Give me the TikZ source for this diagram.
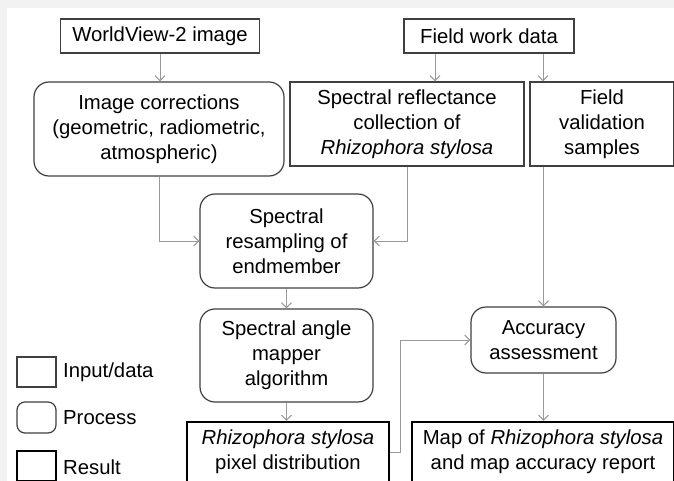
\documentclass[tikz,border=0pt]{standalone}
\usepackage{fontspec}
\setmainfont{Liberation Sans}
\usepackage{xcolor}
\usetikzlibrary{positioning,arrows.meta}
\definecolor{edge}{HTML}{404040}
\definecolor{flowgray}{HTML}{9A9A9A}
\definecolor{pagegray}{HTML}{F2F2F2}

\begin{document}
\begin{tikzpicture}[x=1pt, y=-1pt,
  every node/.style={font=\fontsize{20.3}{25}\selectfont, align=center, inner sep=0pt},
  inbox/.style={draw=edge, line width=1.2pt},
  procbox/.style={draw=edge, line width=1.2pt, rounded corners=15pt},
  resbox/.style={draw=black, line width=2.2pt},
  flow/.style={draw=flowgray, line width=1pt, -{Straight Barb[length=5pt,width=10pt]}}]
\useasboundingbox (0,0) rectangle (674,481);
\fill[pagegray] (0,0) rectangle (674,481);
\fill[white] (7,8) rectangle (674,481);
% inputs
\node[inbox, minimum width=199pt, minimum height=34pt] (wv) at (160,36) {WorldView-2 image};
\node[inbox, minimum width=170pt, minimum height=34pt] (field) at (489,36) {Field work data};
\node[procbox, minimum width=250pt, minimum height=94pt] (corr) at (159,129) {Image corrections\\(geometric, radiometric,\\atmospheric)};
\node[inbox, minimum width=234pt, minimum height=84pt] (refl) at (407,124) {Spectral reflectance\\collection of\\\textit{Rhizophora stylosa}};
\node[inbox, minimum width=144pt, minimum height=84pt] (valid) at (602,124) {Field\\validation\\samples};
% processing
\node[procbox, minimum width=173pt, minimum height=94pt] (resamp) at (286.5,241) {Spectral\\resampling of\\endmember};
\node[procbox, minimum width=173pt, minimum height=93pt] (sam) at (286.5,355.5) {Spectral angle\\mapper\\algorithm};
\node[procbox, minimum width=145pt, minimum height=66pt] (acc) at (543.5,340) {Accuracy\\assessment};
% results
\node[resbox, minimum width=202pt, minimum height=60pt] (pix) at (288,452) {\textit{Rhizophora stylosa}\\pixel distribution};
\node[resbox, minimum width=262pt, minimum height=60pt] (map) at (543,452) {Map of \textit{Rhizophora stylosa}\\and map accuracy report};
% connectors
\draw[flow] (wv.south) -- (wv.south |- corr.north);
\draw[flow] ([xshift=-54pt]field.south) -- ([xshift=-54pt]field.south |- refl.north);
\draw[flow] ([xshift=54pt]field.south) -- ([xshift=54pt]field.south |- valid.north);
\draw[flow] (corr.south) |- (resamp.west);
\draw[flow] (refl.south) |- (resamp.east);
\draw[flow] (resamp.south) -- (sam.north);
\draw[flow] (sam.south) -- (sam.south |- pix.north);
\draw[flow] (valid.south -| acc.north) -- (acc.north);
\draw[flow] (pix.east) -- ++(10,0) |- (acc.west);
\draw[flow] (acc.south) -- (acc.south |- map.north);
% legend
\node[inbox, minimum width=39pt, minimum height=30pt] (leginput) at (36.5,372) {};
\node[procbox, rounded corners=8pt, minimum width=39pt, minimum height=31pt] (legproc) at (36.5,417.5) {};
\node[resbox, minimum width=39pt, minimum height=30pt] (legres) at (36.5,466) {};
\node[anchor=west] (legintext) at (63,372) {Input/data};
\node[anchor=west] (legproctext) at (63,418) {Process};
\node[anchor=west] (legrestext) at (63,467) {Result};
\end{tikzpicture}
\end{document}
